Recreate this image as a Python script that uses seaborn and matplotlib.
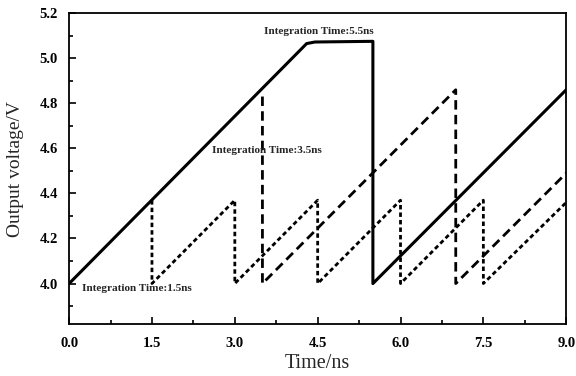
import matplotlib
matplotlib.use("Agg")
import matplotlib.pyplot as plt
import seaborn as sns
from matplotlib.ticker import MultipleLocator

sns.set_style("ticks")
plt.rcParams['font.family'] = ['Liberation Serif', 'DejaVu Serif']

# Data
t55 = [0.0, 4.2, 4.3, 4.45, 5.5, 5.5, 9.0]
v55 = [4.0, 5.04, 5.065, 5.072, 5.075, 4.0, 4.86]

t35 = [3.5, 3.5, 7.0, 7.0, 9.0]
v35 = [4.83, 4.0, 4.86, 4.0, 4.49]

t15 = [1.5, 1.5, 3.0, 3.0, 4.5, 4.5, 6.0, 6.0, 7.5, 7.5, 9.0]
v15 = [4.37, 4.0, 4.37, 4.0, 4.37, 4.0, 4.37, 4.0, 4.37, 4.0, 4.36]

labels = ["Integration Time:5.5ns", "Integration Time:3.5ns", "Integration Time:1.5ns"]
xticks = [0.0, 1.5, 3.0, 4.5, 6.0, 7.5, 9.0]
yticks = [4.0, 4.2, 4.4, 4.6, 4.8, 5.0, 5.2]

fig = plt.figure(figsize=(5.76, 3.76), dpi=100)
ax = fig.add_axes([0.12, 0.138, 0.863, 0.827])

sns.lineplot(x=t15, y=v15, sort=False, estimator=None, ax=ax, color='black',
             linewidth=2.0, linestyle=(0, (1.6, 1.1)))
sns.lineplot(x=t35, y=v35, sort=False, estimator=None, ax=ax, color='black',
             linewidth=2.0, linestyle=(0, (3.4, 1.9)))
sns.lineplot(x=t55, y=v55, sort=False, estimator=None, ax=ax, color='black',
             linewidth=2.2, linestyle='-')

ax.set_xlim(0, 9)
ax.set_ylim(3.82, 5.2)
ax.set_xticks(xticks)
ax.set_yticks(yticks)
ax.set_xticklabels([f"{v:.1f}" for v in xticks], fontweight='bold', fontsize=10.5)
ax.set_yticklabels([f"{v:.1f}" for v in yticks], fontweight='bold', fontsize=10.5)
ax.xaxis.set_minor_locator(MultipleLocator(0.75))
ax.yaxis.set_minor_locator(MultipleLocator(0.1))
ax.tick_params(which='both', direction='in', top=False, right=False, width=1.2, colors='black')
ax.tick_params(axis='x', which='major', length=5, pad=9)
ax.tick_params(axis='y', which='major', length=5, pad=8)
ax.tick_params(which='minor', length=3)
for s in ax.spines.values():
    s.set_linewidth(1.3)
    s.set_color('black')

ax.set_xlabel("Time/ns", fontsize=14.5)
ax.set_ylabel("Output voltage/V", fontsize=14)
ax.xaxis.set_label_coords(0.5, -0.097)
ax.yaxis.set_label_coords(-0.09, 0.5)

ax.text(3.53, 5.12, labels[0], fontsize=8.1, fontweight='bold', va='center', ha='left')
ax.text(2.59, 4.59, labels[1], fontsize=8.1, fontweight='bold', va='center', ha='left')
ax.text(0.235, 3.98, labels[2], fontsize=8.1, fontweight='bold', va='center', ha='left')

fig.savefig("out.png", dpi=100)
